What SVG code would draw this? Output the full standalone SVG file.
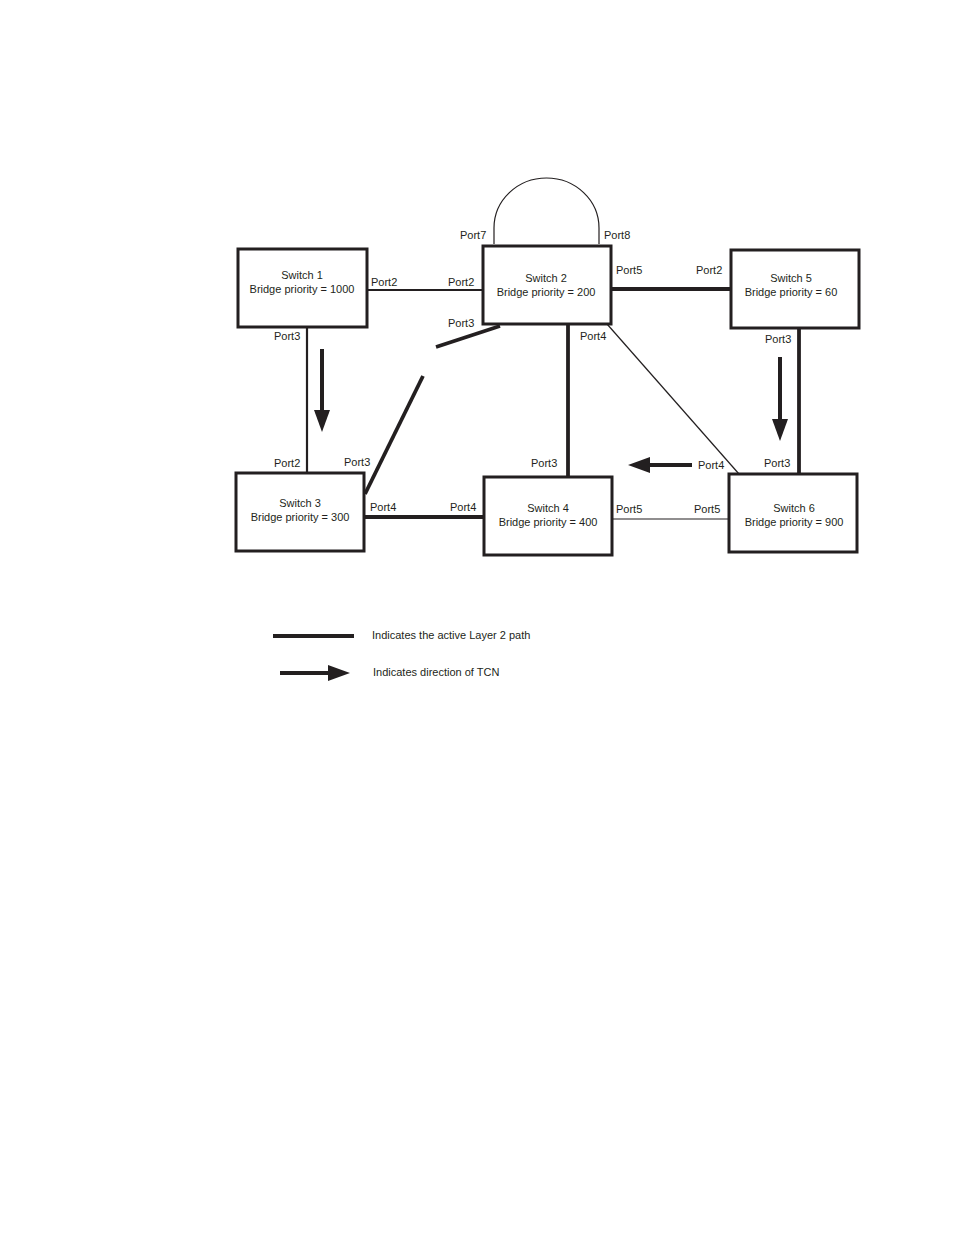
<svg xmlns="http://www.w3.org/2000/svg" width="954" height="1235" viewBox="0 0 954 1235">
<style>
.box{fill:#fff;stroke:#231f20;stroke-width:3}
.t{font-family:"Liberation Sans",Arial,sans-serif;font-size:11px;fill:#231f20}
.c{text-anchor:middle}
.thin{stroke:#231f20;stroke-width:1.2;fill:none}
.med{stroke:#231f20;stroke-width:2.2;fill:none}
.thick{stroke:#231f20;stroke-width:3.8;fill:none}
.arr{stroke:#231f20;stroke-width:4;fill:none}
</style>
<defs>
<marker id="ah" markerUnits="userSpaceOnUse" markerWidth="24" markerHeight="18" refX="2" refY="8" orient="auto">
<path d="M0,0 L22,8 L0,16 Z" fill="#231f20"/>
</marker>
</defs>
<rect width="954" height="1235" fill="#fff"/>
<g id="connectors">
<path class="thin" d="M494,244 L494,228 A52.5,50 0 0 1 599,228 L599,244"/>
<line class="med" x1="367" y1="290" x2="483" y2="290"/>
<line class="thick" x1="611" y1="289" x2="731" y2="289"/>
<line class="med" x1="307" y1="327" x2="307" y2="473"/>
<line class="thick" x1="500" y1="326" x2="436" y2="347"/>
<line class="thick" x1="423" y1="376" x2="365" y2="494"/>
<line class="thick" x1="568" y1="324" x2="568" y2="477"/>
<line class="thin" x1="607" y1="324" x2="739" y2="474"/>
<line class="thick" x1="799" y1="328" x2="799" y2="474"/>
<line class="thick" x1="364" y1="517" x2="484" y2="517"/>
<line class="thin" x1="612" y1="519" x2="729" y2="519"/>
<line class="arr" x1="322" y1="349" x2="322" y2="412" marker-end="url(#ah)"/>
<line class="arr" x1="780" y1="357" x2="780" y2="421" marker-end="url(#ah)"/>
<line class="arr" x1="692" y1="465" x2="648" y2="465" marker-end="url(#ah)"/>
</g>
<g id="switch1">
<rect class="box" x="238" y="249" width="129" height="78"/>
<text class="t c" x="302" y="279">Switch 1</text>
<text class="t c" x="302" y="293">Bridge priority = 1000</text>
</g>
<g id="switch2">
<rect class="box" x="483" y="246" width="128" height="78"/>
<text class="t c" x="546" y="282">Switch 2</text>
<text class="t c" x="546" y="296">Bridge priority = 200</text>
</g>
<g id="switch5">
<rect class="box" x="731" y="250" width="128" height="78"/>
<text class="t c" x="791" y="282">Switch 5</text>
<text class="t c" x="791" y="296">Bridge priority = 60</text>
</g>
<g id="switch3">
<rect class="box" x="236" y="473" width="128" height="78"/>
<text class="t c" x="300" y="507">Switch 3</text>
<text class="t c" x="300" y="521">Bridge priority = 300</text>
</g>
<g id="switch4">
<rect class="box" x="484" y="477" width="128" height="78"/>
<text class="t c" x="548" y="512">Switch 4</text>
<text class="t c" x="548" y="526">Bridge priority = 400</text>
</g>
<g id="switch6">
<rect class="box" x="729" y="474" width="128" height="78"/>
<text class="t c" x="794" y="512">Switch 6</text>
<text class="t c" x="794" y="526">Bridge priority = 900</text>
</g>
<g id="labels">
<text class="t" x="460" y="239">Port7</text>
<text class="t" x="604" y="239">Port8</text>
<text class="t" x="371" y="286">Port2</text>
<text class="t" x="448" y="286">Port2</text>
<text class="t" x="448" y="327">Port3</text>
<text class="t" x="580" y="340">Port4</text>
<text class="t" x="616" y="274">Port5</text>
<text class="t" x="696" y="274">Port2</text>
<text class="t" x="765" y="343">Port3</text>
<text class="t" x="274" y="340">Port3</text>
<text class="t" x="274" y="467">Port2</text>
<text class="t" x="344" y="466">Port3</text>
<text class="t" x="531" y="467">Port3</text>
<text class="t" x="370" y="511">Port4</text>
<text class="t" x="450" y="511">Port4</text>
<text class="t" x="616" y="513">Port5</text>
<text class="t" x="694" y="513">Port5</text>
<text class="t" x="698" y="469">Port4</text>
<text class="t" x="764" y="467">Port3</text>
</g>
<g id="legend">
<line class="arr" x1="273" y1="636" x2="354" y2="636"/>
<text class="t" x="372" y="639">Indicates the active Layer 2 path</text>
<line class="arr" x1="280" y1="673" x2="330" y2="673" marker-end="url(#ah)"/>
<text class="t" x="373" y="676">Indicates direction of TCN</text>
</g>
</svg>
